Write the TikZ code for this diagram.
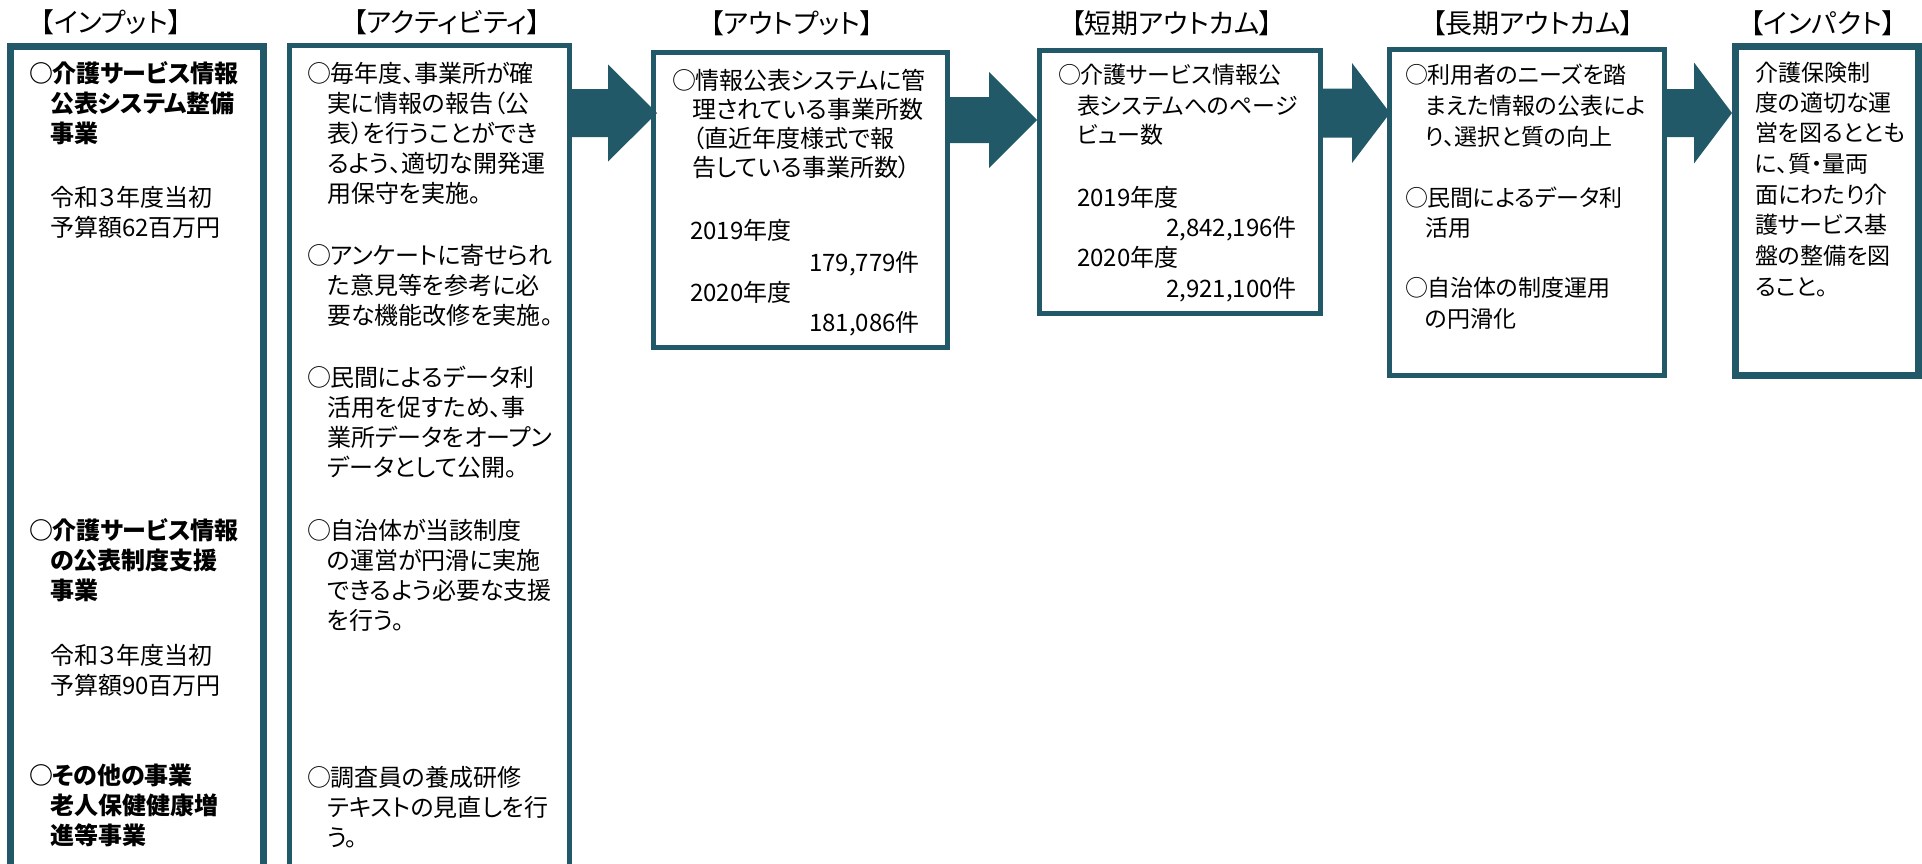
\documentclass[tikz,border=0pt]{standalone}
\usepackage{fontspec}
\newfontfamily\jp[RawFeature=+palt]{Noto Sans CJK JP}
\usetikzlibrary{calc}
\definecolor{tealdark}{HTML}{215968}
\newcommand\maru{\makebox[21pt][c]{○}}
\newcommand\blockarrow[7]{% from, to, yc, shaft half, head half, head length, tip offset
  \fill[arrowfill] let \p1=(#1.east), \p2=(#2.west) in
    ({\x1-4pt},{-(#3-#4)*1pt}) -- ({\x2+#7pt-#6pt},{-(#3-#4)*1pt})
    -- ({\x2+#7pt-#6pt},{-(#3-#5)*1pt}) -- ({\x2+#7pt},{-#3pt})
    -- ({\x2+#7pt-#6pt},{-(#3+#5)*1pt}) -- ({\x2+#7pt-#6pt},{-(#3+#4)*1pt})
    -- ({\x1-4pt},{-(#3+#4)*1pt}) -- cycle;}
\tikzset{
  box/.style={draw=tealdark, line width=5pt, inner sep=0pt},
  heavybox/.style={box, line width=7pt},
  arrowfill/.style={fill=tealdark},
  body/.style={anchor=west, inner sep=0pt, text height=20.2pt, text depth=2.8pt, font=\jp\fontsize{23}{30}\selectfont},
  bigbody/.style={body, text height=21.1pt, text depth=2.9pt, font=\jp\fontsize{24}{30}\selectfont},
  bodyb/.style={bigbody, font=\jp\bfseries\fontsize{24}{30}\selectfont},
  num/.style={body, anchor=east},
  bignum/.style={bigbody, anchor=east},
  ttl/.style={inner sep=0pt, text height=24pt, text depth=3.3pt, font=\jp\fontsize{27}{30}\selectfont},
}
\begin{document}
\begin{tikzpicture}[x=1pt,y=-1pt]
\useasboundingbox (0,0) rectangle (1922,863);
\clip (0,0) rectangle (1922,863);
\fill[white] (0,0) rectangle (1922,863);

% titles
\node[ttl] (t1) at (111,22) {【インプット】};
\node[ttl] (t2) at (447,22) {【アクティビティ】};
\node[ttl] (t3) at (792,23) {【アウトプット】};
\node[ttl] (t4) at (1172,23) {【短期アウトカム】};
\node[ttl] (t5) at (1533,23) {【長期アウトカム】};
\node[ttl] (t6) at (1823,23) {【インパクト】};

% boxes
\node[heavybox, minimum width=253pt, minimum height=834pt] (inp) at (137,463.5) {};
\node[box, minimum width=280pt, minimum height=835pt] (act) at (429.5,463) {};
\node[box, minimum width=294pt, minimum height=295pt] (out) at (800.5,200) {};
\node[box, minimum width=281pt, minimum height=263pt] (sho) at (1180,182) {};
\node[box, minimum width=275pt, minimum height=326pt] (lon) at (1527,212.5) {};
\node[heavybox, minimum width=183pt, minimum height=329pt] (imp) at (1827,211) {};

% arrows
\blockarrow{act}{out}{113}{24}{48.5}{49}{6}
\blockarrow{out}{sho}{120}{23}{48}{48}{0}
\blockarrow{sho}{lon}{113}{24.5}{50}{38}{3}
\blockarrow{lon}{imp}{113}{24}{50.5}{38}{0}

% input texts
\node[bodyb] (i1) at (31,73) {\maru 介護サービス情報};
\node[bodyb] (i2) at (50,103) {公表システム整備};
\node[bodyb] (i3) at (50,133) {事業};
\node[bigbody] (i4) at (50,197) {令和３年度当初};
\node[bigbody] (i5) at (50,227) {予算額62百万円};
\node[bodyb] (i6) at (31,530) {\maru 介護サービス情報};
\node[bodyb] (i7) at (50,560) {の公表制度支援};
\node[bodyb] (i8) at (50,590) {事業};
\node[bigbody] (i9) at (50,655) {令和３年度当初};
\node[bigbody] (i10) at (50,685) {予算額90百万円};
\node[bodyb] (i11) at (31,775) {\maru その他の事業};
\node[bodyb] (i12) at (50,805) {老人保健健康増};
\node[bodyb] (i13) at (50,835) {進等事業};

% activity texts
\node[bigbody] (a1) at (309,73) {\maru 毎年度、事業所が確};
\node[bigbody] (a2) at (327,103) {実に情報の報告（公};
\node[bigbody] (a3) at (327,133) {表）を行うことができ};
\node[bigbody] (a4) at (327,163) {るよう、適切な開発運};
\node[bigbody] (a5) at (327,193) {用保守を実施。};
\node[bigbody] (a6) at (309,255) {\maru アンケートに寄せられ};
\node[bigbody] (a7) at (327,285) {た意見等を参考に必};
\node[bigbody] (a8) at (327,315) {要な機能改修を実施。};
\node[bigbody] (a9) at (309,377) {\maru 民間によるデータ利};
\node[bigbody] (a10) at (327,407) {活用を促すため、事};
\node[bigbody] (a11) at (327,437) {業所データをオープン};
\node[bigbody] (a12) at (327,467) {データとして公開。};
\node[bigbody] (a13) at (309,530) {\maru 自治体が当該制度};
\node[bigbody] (a14) at (327,560) {の運営が円滑に実施};
\node[bigbody] (a15) at (327,590) {できるよう必要な支援};
\node[bigbody] (a16) at (327,620) {を行う。};
\node[bigbody] (a17) at (309,777) {\maru 調査員の養成研修};
\node[bigbody] (a18) at (327,807) {テキストの見直しを行};
\node[bigbody] (a19) at (327,837) {う。};

% output texts
\node[bigbody] (o1) at (674,80) {\maru 情報公表システムに管};
\node[bigbody] (o2) at (692,109) {理されている事業所数};
\node[bigbody] (o3) at (692,138) {（直近年度様式で報};
\node[bigbody] (o4) at (692,167) {告している事業所数）};
\node[bigbody] (o5) at (690,230) {2019年度};
\node[bignum] (o6) at (920,262) {179,779件};
\node[bigbody] (o7) at (690,292) {2020年度};
\node[bignum] (o8) at (920,322) {181,086件};

% short-term outcome texts
\node[body] (s1) at (1059,75) {\maru 介護サービス情報公};
\node[body] (s2) at (1077,106) {表システムへのページ};
\node[body] (s3) at (1077,135) {ビュー数};
\node[bigbody] (s4) at (1077,197) {2019年度};
\node[bignum] (s5) at (1297,227) {2,842,196件};
\node[bigbody] (s6) at (1077,257) {2020年度};
\node[bignum] (s7) at (1297,288) {2,921,100件};

% long-term outcome texts
\node[body] (l1) at (1406,75) {\maru 利用者のニーズを踏};
\node[body] (l2) at (1425,106) {まえた情報の公表によ};
\node[body] (l3) at (1425,137) {り、選択と質の向上};
\node[body] (l4) at (1406,198) {\maru 民間によるデータ利};
\node[body] (l5) at (1425,228) {活用};
\node[body] (l6) at (1406,288) {\maru 自治体の制度運用};
\node[body] (l7) at (1425,319) {の円滑化};

% impact texts
\node[body] (m1) at (1755,73) {介護保険制};
\node[body] (m2) at (1755,103) {度の適切な運};
\node[body] (m3) at (1755,133) {営を図るととも};
\node[body] (m4) at (1755,164) {に、質・量両};
\node[body] (m5) at (1755,195) {面にわたり介};
\node[body] (m6) at (1755,225) {護サービス基};
\node[body] (m7) at (1755,256) {盤の整備を図};
\node[body] (m8) at (1755,287) {ること。};
\end{tikzpicture}
\end{document}
